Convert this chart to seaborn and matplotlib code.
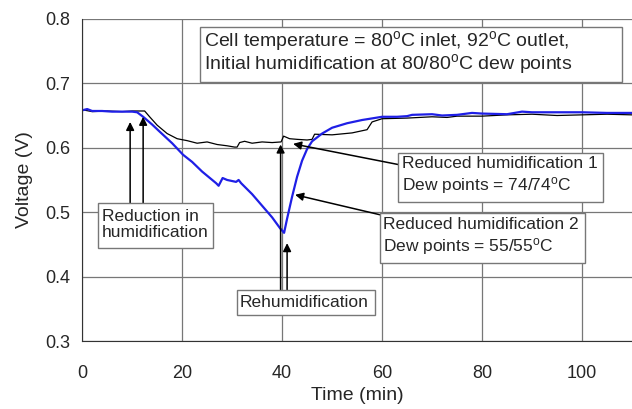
import pandas as pd
import matplotlib
matplotlib.use("Agg")
import matplotlib.pyplot as plt
from matplotlib.patches import Rectangle
from matplotlib.ticker import MultipleLocator
import seaborn as sns

# Voltage traces
t_black = [0, 2, 5, 8, 10, 12.5, 13.5, 15, 17, 19, 21, 23, 25, 27, 29, 30.5,
           31, 31.5, 32.5, 34, 36, 38, 39.8, 40.3, 41.5, 43, 45, 46, 46.5, 50,
           54, 57, 58, 60, 65, 70, 73, 75, 80, 85, 90, 95, 100, 105, 110]
v_black = [0.659, 0.656, 0.657, 0.656, 0.657, 0.657, 0.648, 0.635, 0.622,
           0.614, 0.611, 0.607, 0.609, 0.605, 0.603, 0.601, 0.601, 0.608,
           0.610, 0.607, 0.609, 0.608, 0.609, 0.618, 0.614, 0.613, 0.612,
           0.613, 0.621, 0.620, 0.623, 0.628, 0.640, 0.645, 0.646, 0.648,
           0.647, 0.649, 0.649, 0.651, 0.652, 0.650, 0.651, 0.652, 0.651]

t_blue = [0, 1, 2, 4, 6, 8, 10, 11, 12.2, 14, 15.5, 18, 20.2, 22, 24, 26.8,
          27.3, 28.1, 29, 30.8, 31.3, 31.8, 34, 36, 38, 39.6, 40.4, 41, 42,
          43, 44, 45, 46, 48, 50, 53, 56, 60, 63, 65, 66, 70, 72, 75, 78, 80,
          85, 88, 90, 95, 100, 105, 110]
v_blue = [0.658, 0.660, 0.657, 0.657, 0.656, 0.656, 0.656, 0.655, 0.648,
          0.636, 0.625, 0.607, 0.589, 0.578, 0.563, 0.545, 0.541, 0.553,
          0.550, 0.547, 0.550, 0.545, 0.528, 0.510, 0.492, 0.475, 0.468,
          0.490, 0.524, 0.555, 0.580, 0.598, 0.610, 0.622, 0.631, 0.638,
          0.643, 0.648, 0.648, 0.649, 0.651, 0.652, 0.650, 0.651, 0.654,
          0.653, 0.652, 0.656, 0.655, 0.655, 0.655, 0.654, 0.654]

df_black = pd.DataFrame({"Time": t_black, "Voltage": v_black})
df_blue = pd.DataFrame({"Time": t_blue, "Voltage": v_blue})

sns.set_style("white")
plt.rcParams["font.family"] = ["Liberation Sans", "DejaVu Sans"]
plt.rcParams["mathtext.default"] = "regular"

fig = plt.figure(figsize=(6.32, 4.09), dpi=100)
ax = fig.add_axes([0.130, 0.166, 0.870, 0.788])

sns.lineplot(data=df_black, x="Time", y="Voltage", color="black", lw=0.9, ax=ax)
sns.lineplot(data=df_blue, x="Time", y="Voltage", color="#1f1fe6", lw=1.6, ax=ax)

ax.set_xlim(0, 110)
ax.set_ylim(0.3, 0.8)
ax.xaxis.set_major_locator(MultipleLocator(20))
ax.xaxis.set_minor_locator(MultipleLocator(5))
ax.yaxis.set_major_locator(MultipleLocator(0.1))
ax.yaxis.set_major_formatter(plt.FormatStrFormatter("%.1f"))
ax.grid(True, which="major", color="#777777", lw=0.9)
ax.tick_params(axis="x", which="major", direction="out", length=5,
               labelsize=13, pad=12, color="#333333")
ax.tick_params(axis="x", which="minor", direction="in", length=4, color="#333333")
ax.tick_params(axis="y", direction="out", length=5, labelsize=13, color="#333333")
for s in ["top", "right"]:
    ax.spines[s].set_visible(False)
for s in ["left", "bottom"]:
    ax.spines[s].set_color("#333333")
ax.set_xlabel("Time (min)", fontsize=14, labelpad=4)
ax.set_ylabel("Voltage (V)", fontsize=14, labelpad=9)

arr = dict(arrowstyle="-|>", color="black", lw=1.1, mutation_scale=12,
           shrinkA=0, shrinkB=0)


def label_box(x0, x1, y0, y1, tx, ty, txt, ls=1.25, fs=12.5):
    ax.add_patch(Rectangle((x0, y0), x1 - x0, y1 - y0, fc="white",
                           ec="#777777", lw=1, zorder=4))
    ax.text(tx, ty, txt, ha="left", va="center", fontsize=fs,
            linespacing=ls, zorder=5)


label_box(23.6, 108.0, 0.702, 0.788, 24.4, 0.748,
          "Cell temperature = 80$^o$C inlet, 92$^o$C outlet,\n"
          "Initial humidification at 80/80$^o$C dew points", ls=0.95, fs=14)

label_box(3.2, 26.2, 0.444, 0.514, 4.0, 0.481,
          "Reduction in\nhumidification", ls=1.05)
ax.annotate("", xy=(9.6, 0.640), xytext=(9.6, 0.514), arrowprops=arr)
ax.annotate("", xy=(12.2, 0.648), xytext=(12.2, 0.514), arrowprops=arr)

label_box(31.0, 58.6, 0.340, 0.379, 31.6, 0.360, "Rehumidification")
ax.annotate("", xy=(39.7, 0.605), xytext=(39.7, 0.379), arrowprops=arr)
ax.annotate("", xy=(41.0, 0.452), xytext=(41.0, 0.379), arrowprops=arr)

ax.annotate("", xy=(42.2, 0.606), xytext=(63.2, 0.574), arrowprops=arr)
label_box(63.2, 104.2, 0.516, 0.592, 64.0, 0.556,
          "Reduced humidification 1\nDew points = 74/74$^o$C")

ax.annotate("", xy=(42.6, 0.527), xytext=(59.6, 0.496), arrowprops=arr)
label_box(59.6, 100.6, 0.421, 0.499, 60.2, 0.461,
          "Reduced humidification 2\nDew points = 55/55$^o$C")

fig.savefig("out.png", dpi=100)
